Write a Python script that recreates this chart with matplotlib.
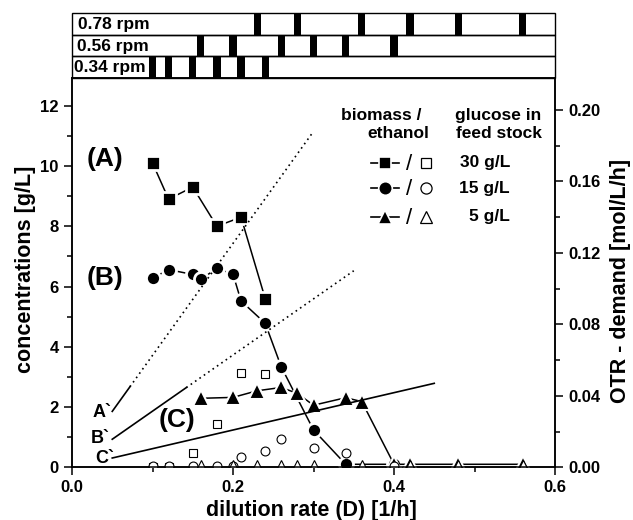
import numpy as np
import matplotlib
matplotlib.use("Agg")
import matplotlib.pyplot as plt
from matplotlib.ticker import MultipleLocator, FormatStrFormatter

plt.rcParams["font.family"] = ["Liberation Sans", "DejaVu Sans"]
plt.rcParams["font.weight"] = "bold"

# biomass (filled symbols) [g/L] vs dilution rate [1/h]
d_30 = [0.10, 0.12, 0.15, 0.18, 0.21, 0.24]
bio_30 = [10.1, 8.9, 9.3, 8.0, 8.3, 5.6]
d_15 = [0.10, 0.12, 0.15, 0.16, 0.18, 0.20, 0.21, 0.24, 0.26, 0.30, 0.34, 0.40]
bio_15 = [6.28, 6.56, 6.40, 6.24, 6.60, 6.41, 5.52, 4.78, 3.33, 1.24, 0.1, 0.1]
d_5 = [0.16, 0.20, 0.23, 0.26, 0.28, 0.30, 0.34, 0.36, 0.40, 0.42, 0.48, 0.56]
bio_5 = [2.29, 2.32, 2.54, 2.65, 2.45, 2.06, 2.31, 2.18, 0.1, 0.1, 0.1, 0.1]

# ethanol (open symbols) [g/L]
de_30 = [0.10, 0.12, 0.15, 0.18, 0.21, 0.24]
eth_30 = [0.02, 0.02, 0.49, 1.44, 3.13, 3.11]
de_15 = [0.10, 0.12, 0.15, 0.18, 0.20, 0.21, 0.24, 0.26, 0.30, 0.34, 0.40]
eth_15 = [0.05, 0.05, 0.05, 0.05, 0.05, 0.35, 0.55, 0.94, 0.65, 0.49, 0.05]
de_5 = [0.16, 0.20, 0.23, 0.26, 0.28, 0.30, 0.36, 0.42, 0.48, 0.56]
eth_5 = [0.1, 0.1, 0.1, 0.1, 0.1, 0.1, 0.1, 0.1, 0.1, 0.1]

# OTR demand lines (A`, B`, C`) [mol/L/h]
otr_d = [[0.05, 0.30], [0.05, 0.35], [0.05, 0.45]]
otr_val = [[0.0313, 0.188], [0.0157, 0.110], [0.0052, 0.047]]
otr_solid_end = [0.072, 0.142, 0.45]

# operating points per shaking frequency (top panel)
rpm_labels = ["0.78 rpm", "0.56 rpm", "0.34 rpm"]
rpm_points = [
    [0.23, 0.28, 0.36, 0.42, 0.48, 0.56],
    [0.16, 0.20, 0.26, 0.30, 0.34, 0.40],
    [0.10, 0.12, 0.15, 0.18, 0.21, 0.24],
]

glucose = ["30 g/L", "15 g/L", "5 g/L"]
markers = ["s", "o", "^"]

W, H = 633, 520
fig = plt.figure(figsize=(W / 100, H / 100), dpi=100)
ax = fig.add_axes([72 / W, 1 - 467.3 / H, 483 / W, 389.3 / H])
top = fig.add_axes([72 / W, 1 - 78 / H, 483 / W, 64.7 / H], sharex=ax)
ax2 = ax.twinx()

# filled symbols with white rim so lines stop short of the markers
filled = dict(color="black", mec="white", lw=1.1, clip_on=True)
ax.plot(d_30, bio_30, marker="s", ms=9.7, mew=2, zorder=3, **filled)
ax.plot(d_15, bio_15, marker="o", ms=10.1, mew=2, zorder=3, **filled)
ax.plot(d_5, bio_5, marker="^", ms=11, mew=1.5, zorder=3, **filled)

opened = dict(ls="none", mfc="white", mec="black", mew=0.8, zorder=4)
ax.plot(de_30, eth_30, marker="s", ms=6.2, **opened)
ax.plot(de_15, eth_15, marker="o", ms=6.4, **opened)
ax.plot(de_5, eth_5, marker="^", ms=5.8, **opened)

ax.set_xlim(0, 0.6)
ax.set_ylim(0, 12.92)
ax2.set_ylim(0, 0.2179)

for i in range(3):
    x0, x1 = otr_d[i]
    y0, y1 = otr_val[i]
    xs = otr_solid_end[i]
    ys = np.interp(xs, otr_d[i], otr_val[i])
    ax2.plot([x0, xs], [y0, ys], color="black", lw=1.2)
    if xs < x1:
        ax2.plot([xs, x1], [ys, y1], color="black", lw=1.2, ls=(0, (1, 2.2)))

ax.text(0.037, 1.68, "A`", fontsize=13, ha="center", va="baseline")
ax.text(0.035, 0.82, "B`", fontsize=13, ha="center", va="baseline")
ax.text(0.041, 0.15, "C`", fontsize=13, ha="center", va="baseline")

ax.text(0.041, 10.24, "(A)", fontsize=19, ha="center", va="center")
ax.text(0.041, 6.28, "(B)", fontsize=19, ha="center", va="center")
ax.text(0.130, 1.57, "(C)", fontsize=19, ha="center", va="center")

# legend drawn by hand
ax.text(0.434, 11.69, "biomass /", fontsize=12.5, ha="right", va="center")
ax.text(0.444, 11.09, "ethanol", fontsize=12.5, ha="right", va="center")
ax.text(0.529, 11.69, "glucose in", fontsize=12.5, ha="center", va="center")
ax.text(0.530, 11.09, "feed stock", fontsize=12.5, ha="center", va="center")
leg_y = [10.11, 9.26, 8.32]
leg_ms = [(9.2, 7.4), (9.8, 8.0), (10.5, 8.4)]
for i in range(3):
    y = leg_y[i]
    ax.plot([0.372, 0.406], [y, y], color="black", lw=1.2, clip_on=False)
    ax.plot([0.389], [y], marker=markers[i], ms=leg_ms[i][0], color="black",
            mec="white", mew=1.2, clip_on=False)
    ax.text(0.419, y - 0.05, "/", fontsize=16, fontweight="normal", ha="center", va="center")
    ax.plot([0.4398], [y], marker=markers[i], ms=leg_ms[i][1], ls="none",
            mfc="white", mec="black", mew=0.9, clip_on=False)
    ax.text(0.544, y, glucose[i], fontsize=12.5, ha="right", va="center")

# axes styling
for a in (ax, ax2):
    for s in a.spines.values():
        s.set_linewidth(1.1)
ax.xaxis.set_major_locator(MultipleLocator(0.2))
ax.xaxis.set_minor_locator(MultipleLocator(0.1))
ax.xaxis.set_major_formatter(FormatStrFormatter("%.1f"))
ax.yaxis.set_major_locator(MultipleLocator(2))
ax.yaxis.set_minor_locator(MultipleLocator(1))
ax2.yaxis.set_major_locator(MultipleLocator(0.04))
ax2.yaxis.set_minor_locator(MultipleLocator(0.02))
ax2.yaxis.set_major_formatter(FormatStrFormatter("%.2f"))
for a in (ax, ax2):
    a.tick_params(which="major", direction="out", length=6, width=1.1, labelsize=12)
    a.tick_params(which="minor", direction="out", length=3.5, width=1.1)
ax.tick_params(top=False, which="both")

ax.text(-0.097, 0.509, "concentrations [g/L]", transform=ax.transAxes,
        rotation=90, fontsize=15.5, ha="center", va="center")
ax.text(1.135, 0.479, "OTR - demand [mol/L/h]", transform=ax.transAxes,
        rotation=90, fontsize=15.5, ha="center", va="center")
ax.text(0.496, -0.112, "dilution rate (D) [1/h]", transform=ax.transAxes,
        fontsize=15.5, ha="center", va="center")

# top panel: operating points for each shaking frequency
top.set_ylim(0, 3)
top.axis("off")
label_x = [0.008, 0.006, 0.003]
for i in range(3):
    row = 2 - i
    top.barh(row + 0.5, 0.6, left=0, height=1, fill=False, edgecolor="black",
             lw=1.0, clip_on=False)
    top.bar(rpm_points[i], 1, bottom=row, width=0.009, color="black",
            clip_on=False)
    top.text(label_x[i], row + 0.47, rpm_labels[i], fontsize=12.5, ha="left", va="center")

fig.savefig("out.png", dpi=100)
